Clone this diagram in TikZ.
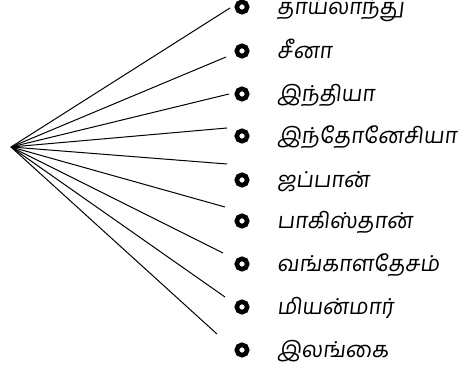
\documentclass[tikz,border=0pt]{standalone}
\usepackage{fontspec}
\newfontfamily\tamilfont[Script=Tamil,FakeSlant=0.12]{Hind Madurai}
\begin{document}
\begin{tikzpicture}[x=1pt,y=-1pt,
  ray/.style={line width=1pt,black},
  dot/.style={circle,draw=black,line width=4.6pt,minimum size=10.4pt,inner sep=0pt},
  lbl/.style={anchor=base west,inner sep=0pt,font=\tamilfont\fontsize{22}{26}\selectfont}]
\useasboundingbox (0,0) rectangle (467,371);
\coordinate (o) at (11,147);
\foreach \i/\ex/\ey/\by/\t in {
  1/230/8/7/தாய்லாந்து,
  2/226/57/51/சீனா,
  3/229/94/94/இந்தியா,
  4/227/128/136/இந்தோனேசியா,
  5/227/164/180/ஜப்பான்,
  6/225/207/221/பாகிஸ்தான்,
  7/223/253/264/வங்காளதேசம்,
  8/225/297/307/மியன்மார்,
  9/217/334/350/இலங்கை}{
  \coordinate (e\i) at (\ex,\ey);
  \node[dot] (b\i) at (242,\by) {};
  \node[lbl] (t\i) at (277,\by+8) {\t};
  \draw[ray] (o) -- (e\i);
}
\end{tikzpicture}
\end{document}
